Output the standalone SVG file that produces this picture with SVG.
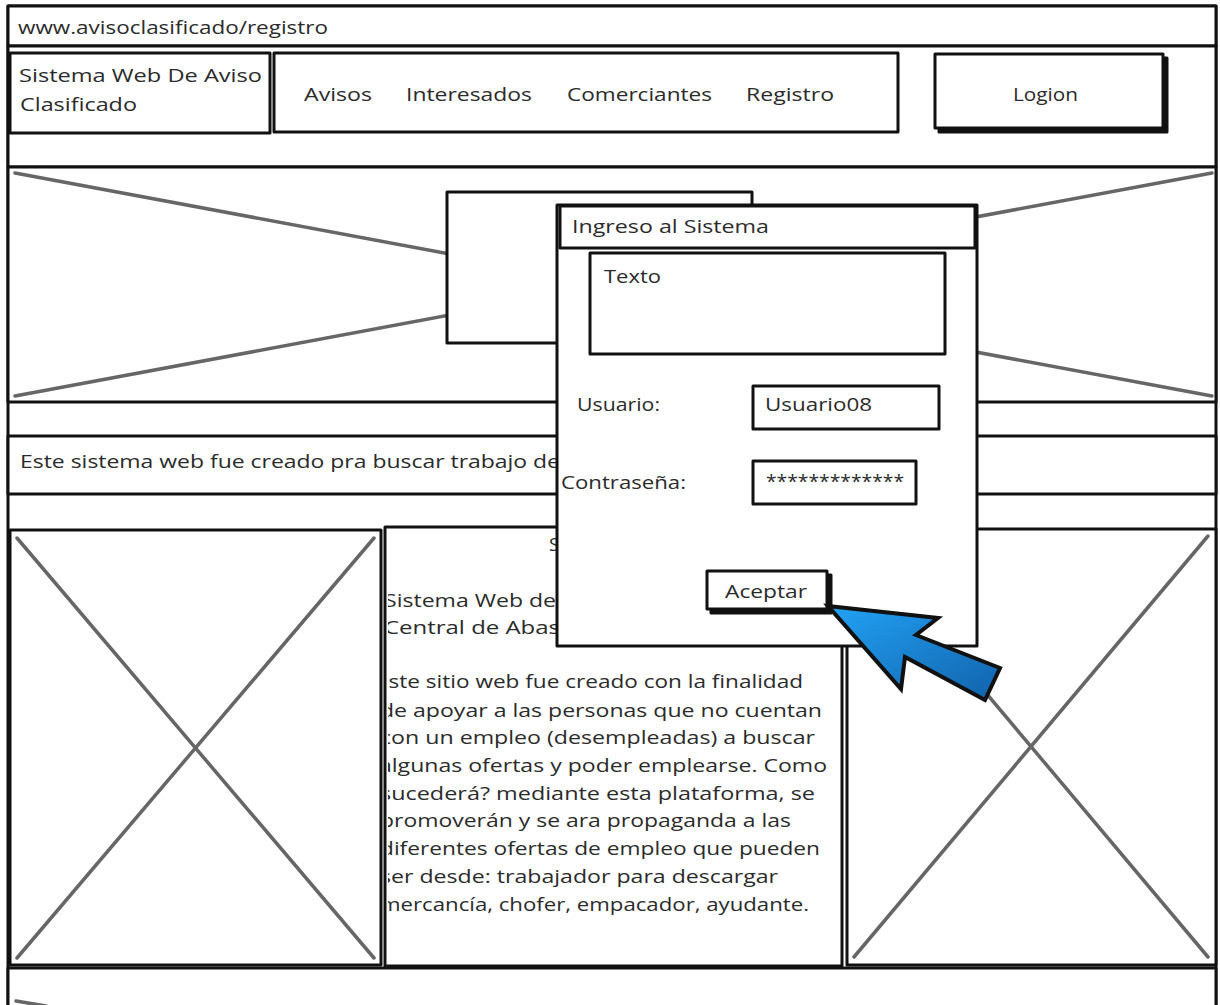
<svg xmlns="http://www.w3.org/2000/svg" width="1220" height="1005" viewBox="0 0 1220 1005">
  <defs>
    <style>
      .box { fill: #ffffff; stroke: #111111; stroke-width: 3; stroke-linejoin: round; }
      .shadow { fill: #111111; stroke: #111111; stroke-width: 3; stroke-linejoin: round; }
      .cross { stroke: #666666; stroke-width: 3.5; stroke-linecap: round; fill: none; }
      .t { font-family: 'Open Sans', 'Liberation Sans', sans-serif; font-size: 18px; fill: #2b2b2b; }
      .p { font-family: 'Open Sans', 'Liberation Sans', sans-serif; font-size: 19px; fill: #2b2b2b; }
    </style>
    <linearGradient id="arrowFill" x1="0" y1="0" x2="1" y2="1">
      <stop offset="0" stop-color="#22a2f5"/>
      <stop offset="1" stop-color="#1262ab"/>
    </linearGradient>
    <clipPath id="midClip">
      <rect x="388" y="529" width="452" height="435"/>
    </clipPath>
  </defs>

  <rect width="1220" height="1005" fill="#ffffff"/>

  <!-- page frame -->
  <g id="page">
    <rect class="box" x="8" y="6" width="1208" height="1010"/>
  </g>

  <!-- address bar -->
  <g id="address-bar">
    <rect class="box" x="8" y="6" width="1208" height="40"/>
    <text class="t" x="18" y="34" textLength="310" lengthAdjust="spacingAndGlyphs">www.avisoclasificado/registro</text>
  </g>

  <!-- header -->
  <g id="header">
    <rect class="box" x="8" y="46" width="1208" height="121"/>
  </g>
  <g id="logo">
    <rect class="box" x="10" y="53" width="260" height="80"/>
    <text class="t" x="19" y="82" textLength="243" lengthAdjust="spacingAndGlyphs">Sistema Web De Aviso</text>
    <text class="t" x="20" y="111" textLength="117" lengthAdjust="spacingAndGlyphs">Clasificado</text>
  </g>
  <g id="nav">
    <rect class="box" x="274" y="53" width="624" height="79"/>
    <text class="t" x="304" y="101" textLength="68" lengthAdjust="spacingAndGlyphs">Avisos</text>
    <text class="t" x="406" y="101" textLength="126" lengthAdjust="spacingAndGlyphs">Interesados</text>
    <text class="t" x="567" y="101" textLength="145" lengthAdjust="spacingAndGlyphs">Comerciantes</text>
    <text class="t" x="746" y="101" textLength="88" lengthAdjust="spacingAndGlyphs">Registro</text>
  </g>
  <g id="login">
    <rect class="shadow" x="939" y="58" width="228" height="74"/>
    <rect class="box" x="935" y="54" width="228" height="74"/>
    <text class="t" x="1013" y="101" textLength="65" lengthAdjust="spacingAndGlyphs">Logion</text>
  </g>

  <!-- banner image placeholder -->
  <g id="banner">
    <rect class="box" x="8" y="167" width="1208" height="235"/>
    <line class="cross" x1="15" y1="173" x2="1212" y2="396"/>
    <line class="cross" x1="15" y1="396" x2="1212" y2="173"/>
    <rect class="box" x="447" y="192" width="305" height="151"/>
  </g>

  <!-- description strip -->
  <g id="description">
    <rect class="box" x="8" y="436" width="1208" height="58"/>
    <text class="t" x="20" y="468" textLength="540" lengthAdjust="spacingAndGlyphs">Este sistema web fue creado pra buscar trabajo de</text>
  </g>

  <!-- left image column -->
  <g id="image-left">
    <rect class="box" x="10" y="530" width="371" height="435"/>
    <line class="cross" x1="17" y1="538" x2="374" y2="958"/>
    <line class="cross" x1="374" y1="538" x2="17" y2="958"/>
  </g>

  <!-- middle text column -->
  <g id="content">
    <rect class="box" x="385" y="527" width="457" height="439"/>
    <g clip-path="url(#midClip)">
      <text class="p" x="549" y="551">S</text>
      <text class="p" x="384" y="607" textLength="172" lengthAdjust="spacingAndGlyphs">Sistema Web de</text>
      <text class="p" x="384" y="634" textLength="176" lengthAdjust="spacingAndGlyphs">Central de Abas</text>
      <text class="p" x="376" y="688" textLength="427" lengthAdjust="spacingAndGlyphs">Este sitio web fue creado con la finalidad</text>
      <text class="p" x="380" y="717" textLength="442" lengthAdjust="spacingAndGlyphs">de apoyar a las personas que no cuentan</text>
      <text class="p" x="380" y="744" textLength="435" lengthAdjust="spacingAndGlyphs">con un empleo (desempleadas) a buscar</text>
      <text class="p" x="379" y="772" textLength="448" lengthAdjust="spacingAndGlyphs">algunas ofertas y poder emplearse. Como</text>
      <text class="p" x="380" y="800" textLength="435" lengthAdjust="spacingAndGlyphs">sucederá? mediante esta plataforma, se</text>
      <text class="p" x="380" y="827" textLength="411" lengthAdjust="spacingAndGlyphs">promoverán y se ara propaganda a las</text>
      <text class="p" x="380" y="855" textLength="440" lengthAdjust="spacingAndGlyphs">diferentes ofertas de empleo que pueden</text>
      <text class="p" x="380" y="883" textLength="398" lengthAdjust="spacingAndGlyphs">ser desde: trabajador para descargar</text>
      <text class="p" x="380" y="911" textLength="429" lengthAdjust="spacingAndGlyphs">mercancía, chofer, empacador, ayudante.</text>
    </g>
  </g>

  <!-- right image column -->
  <g id="image-right">
    <rect class="box" x="847" y="529" width="369" height="436"/>
    <line class="cross" x1="854" y1="536" x2="1208" y2="957"/>
    <line class="cross" x1="1208" y1="536" x2="854" y2="957"/>
  </g>

  <!-- footer -->
  <g id="footer">
    <rect class="box" x="8" y="968" width="1208" height="50"/>
    <line class="cross" x1="16" y1="1001" x2="46" y2="1006"/>
  </g>

  <!-- login dialog -->
  <g id="login-dialog">
    <rect class="box" x="557" y="205" width="420" height="441"/>
    <rect class="box" x="560" y="206" width="415" height="42"/>
    <text class="t" x="572" y="233" textLength="197" lengthAdjust="spacingAndGlyphs">Ingreso al Sistema</text>
    <rect class="box" x="590" y="253" width="355" height="101"/>
    <text class="t" x="604" y="283" textLength="57" lengthAdjust="spacingAndGlyphs">Texto</text>
    <text class="t" x="577" y="411" textLength="83" lengthAdjust="spacingAndGlyphs">Usuario:</text>
    <rect class="box" x="753" y="386" width="186" height="43"/>
    <text class="t" x="765" y="411" textLength="107" lengthAdjust="spacingAndGlyphs">Usuario08</text>
    <text class="t" x="561" y="489" textLength="125" lengthAdjust="spacingAndGlyphs">Contraseña:</text>
    <rect class="box" x="753" y="461" width="163" height="43"/>
    <text class="t" x="766" y="488" textLength="138" lengthAdjust="spacingAndGlyphs">*************</text>
    <rect class="shadow" x="711" y="575" width="120" height="38"/>
    <rect class="box" x="707" y="571" width="120" height="38"/>
    <text class="t" x="725" y="598" textLength="82" lengthAdjust="spacingAndGlyphs">Aceptar</text>
  </g>

  <!-- pointer arrow -->
  <g id="pointer">
    <polygon points="828,606 938,618 916,635 1000,668 985,700 905,657 901,689" fill="url(#arrowFill)" stroke="#111111" stroke-width="4" stroke-linejoin="miter"/>
  </g>
</svg>
